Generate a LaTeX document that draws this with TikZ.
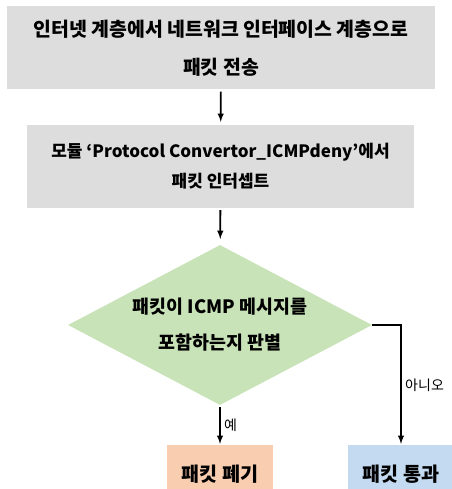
\documentclass[tikz,border=0pt]{standalone}
\usepackage{fontspec}
\setmainfont{Noto Sans CJK KR}
\usetikzlibrary{shapes.geometric}
\definecolor{boxgray}{HTML}{DDDDDD}
\definecolor{decgreen}{HTML}{C9E3B8}
\definecolor{droporange}{HTML}{F8CDB0}
\definecolor{passblue}{HTML}{C4DAF0}

\begin{document}
\begin{tikzpicture}[x=1pt,y=-1pt]
\tikzstyle{procbox}=[fill=boxgray,draw=none,align=center,inner sep=0pt,font=\bfseries\fontsize{19.4}{38}\selectfont]
\tikzstyle{decision}=[diamond,fill=decgreen,draw=none,align=center,inner sep=0pt,aspect=1.9,font=\bfseries\fontsize{18.4}{36}\selectfont]
\tikzstyle{endbox}=[draw=none,align=center,minimum width=106pt,minimum height=58pt,font=\bfseries\fontsize{19.6}{22}\selectfont]
\tikzstyle{flow}=[-latex,line width=1.8pt]
\tikzstyle{answer}=[font=\fontsize{14}{16}\selectfont]

\useasboundingbox (0,0) rectangle (451,489);

\node (send) [procbox,minimum width=428pt,minimum height=83pt] at (221,48) {인터넷 계층에서 네트워크 인터페이스 계층으로\\패킷 전송};
\node (catch) [procbox,minimum width=387pt,minimum height=83pt,font=\bfseries\fontsize{17}{30}\selectfont] at (220.5,166.5) {모듈 ‘Protocol Convertor\_ICMPdeny’에서\\패킷 인터셉트};
\node (check) [decision,minimum width=304pt,minimum height=160pt] at (220,325) {패킷이 ICMP 메시지를\\포함하는지 판별};

\node (drop) [endbox,fill=droporange] at (220,474) {패킷 폐기};
\node (pass) [endbox,fill=passblue] at (401,474) {패킷 통과};

\draw [flow,shorten <=2pt,shorten >=3pt] (send) -- (catch);
\draw [flow,shorten <=2pt,shorten >=6pt] (catch) -- (check);
\draw [flow,shorten <=2pt,shorten >=1pt] (check.south) -- node [right,answer] {예} (drop.north);
\draw [flow,shorten >=1pt] (check.east) -| node [pos=0.75,right,answer] {아니오} (pass.north);

\end{tikzpicture}
\end{document}
